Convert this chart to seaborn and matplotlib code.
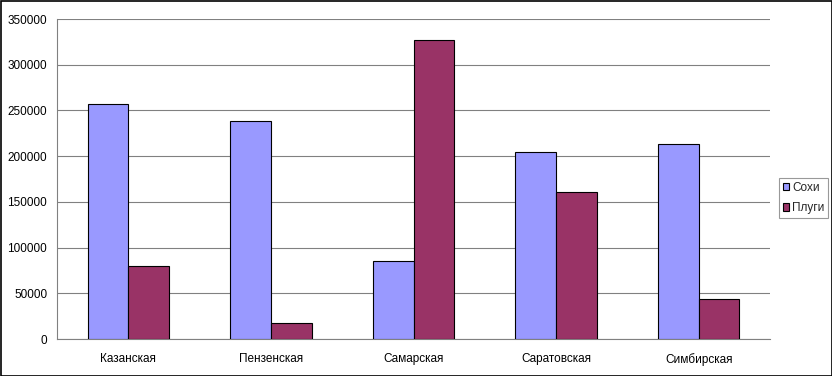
import numpy as np
import pandas as pd
import seaborn as sns
import matplotlib.pyplot as plt
from matplotlib.ticker import FixedLocator

regions = ["Казанская", "Пензенская", "Самарская", "Саратовская", "Симбирская"]
sokhi = [256500, 238000, 85000, 205000, 213000]
plugi = [79500, 18000, 326500, 161000, 43500]

df = pd.DataFrame({"region": regions * 2,
                   "value": sokhi + plugi,
                   "kind": ["Сохи"] * 5 + ["Плуги"] * 5})

sns.set_style("white")
plt.rcParams["font.family"] = ["Liberation Sans", "DejaVu Sans"]

fig = plt.figure(figsize=(8.32, 3.76), dpi=100)
ax = fig.add_axes([57 / 832, 1 - 339 / 376, (770 - 57) / 832, (339 - 19) / 376])

sns.barplot(data=df, x="region", y="value", hue="kind",
            palette={"Сохи": "#9999FF", "Плуги": "#993366"},
            width=0.57, gap=0, edgecolor="black", linewidth=0.8,
            saturation=1, ax=ax, zorder=3)

ax.set_ylim(0, 350000)
ax.set_xlim(-0.5, 4.5)
ax.set_yticks(np.arange(0, 350001, 50000))
ax.yaxis.grid(True, color="#808080", linewidth=0.8, zorder=0)
ax.set_xlabel("")
ax.set_ylabel("")
for s in ["top", "right"]:
    ax.spines[s].set_visible(False)
for s in ["left", "bottom"]:
    ax.spines[s].set_color("#808080")
    ax.spines[s].set_linewidth(0.8)

ax.tick_params(axis="both", labelsize=8.5, colors="black")
ax.tick_params(axis="y", length=4, color="#808080", width=0.8, pad=3)
ax.tick_params(axis="x", which="major", length=0, pad=10)
ax.xaxis.set_minor_locator(FixedLocator(np.arange(-0.5, 5, 1)))
ax.tick_params(axis="x", which="minor", length=4, color="#808080", width=0.8, direction="out")

leg = ax.legend(loc="center left", bbox_to_anchor=(779 / 832, 178 / 376),
                bbox_transform=fig.transFigure, fontsize=8.5, frameon=True,
                fancybox=False, edgecolor="#808080", handlelength=0.55,
                handleheight=0.55, handletextpad=0.25, borderpad=0.3,
                labelspacing=0.7, borderaxespad=0)
leg.get_frame().set_linewidth(0.8)

fig.patches.append(plt.Rectangle((0.5 / 832, 0.5 / 376), 831 / 832, 375 / 376,
                                 transform=fig.transFigure, fill=False,
                                 edgecolor="black", linewidth=1.2))

fig.savefig("out.png", dpi=100)
